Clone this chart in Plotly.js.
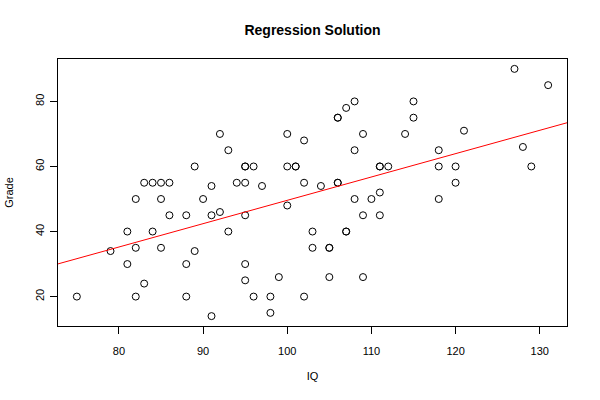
<!DOCTYPE html>
<html><head><meta charset="utf-8">
<script src="https://cdn.plot.ly/plotly-3.0.1.min.js"></script>
<style>html,body{margin:0;padding:0;background:#fff}#c{width:600px;height:400px}</style>
</head><body><div id="c"></div>
<script>
const iq = [75,79,81,81,82,82,82,83,83,84,84,85,85,85,86,86,88,88,88,89,89,90,91,91,91,92,92,93,93,94,
  95,95,95,95,95,95,96,96,97,98,98,99,100,100,100,101,101,102,102,102,103,103,104,105,105,105,
  106,106,106,106,107,107,107,108,108,108,109,109,109,110,111,111,111,111,112,114,115,115,
  118,118,118,120,120,121,127,128,129,131];
const grade = [20,34,40,30,50,35,20,55,24,55,40,55,50,35,55,45,45,30,20,60,34,50,54,45,14,70,46,65,40,55,
  60,60,55,45,30,25,60,20,54,20,15,26,70,60,48,60,60,68,55,20,40,35,54,35,35,26,
  75,75,55,55,78,40,40,80,65,50,70,45,26,50,60,60,52,45,60,70,80,75,
  65,60,50,60,55,71,90,66,60,85];
const xTicks = [80,90,100,110,120,130];
const yTicks = [20,40,60,80];

// least squares fit from the data
const n = iq.length;
const mx = iq.reduce((a,b)=>a+b,0)/n, my = grade.reduce((a,b)=>a+b,0)/n;
let sxy=0, sxx=0;
for (let i=0;i<n;i++){ sxy += (iq[i]-mx)*(grade[i]-my); sxx += (iq[i]-mx)**2; }
const slope = sxy/sxx, icpt = my - slope*mx;

const xmin = Math.min(...iq), xmax = Math.max(...iq);
const ymin = Math.min(...grade), ymax = Math.max(...grade);
const xr = [xmin-0.04*(xmax-xmin), xmax+0.04*(xmax-xmin)];
const yr = [ymin-0.04*(ymax-ymin), ymax+0.04*(ymax-ymin)];

const font = {family:'Liberation Sans, Arial, sans-serif', size:11, color:'#000'};
const traces = [
  {x: iq, y: grade, mode:'markers', type:'scatter',
   marker:{symbol:'circle-open', size:7, color:'#000', line:{width:1, color:'#000'}}, hoverinfo:'x+y'},
  {x: xr, y: xr.map(v=>icpt+slope*v), mode:'lines', type:'scatter',
   line:{color:'#ff0000', width:1}}
];
const layout = {
  width:600, height:400, showlegend:false,
  margin:{l:58, r:33, t:59, b:74},
  paper_bgcolor:'#fff', plot_bgcolor:'#fff', font: font,
  title:{text:'<b>Regression Solution</b>', xref:'paper', x:0.5, xanchor:'center', yref:'container', y:0.925, yanchor:'middle',
         font:{family:'Liberation Sans, Arial, sans-serif', size:14, color:'#000'}},
  xaxis:{range:xr, tickvals:xTicks, ticktext:xTicks.map(String), ticks:'outside', ticklen:7, tickcolor:'#000',
         ticklabelstandoff:8,
         showgrid:false, zeroline:false, showline:true, linecolor:'#000', linewidth:1, mirror:true,
         title:{text:'IQ', font:font, standoff:16}, tickfont:font},
  yaxis:{range:yr, tickvals:yTicks, ticktext:yTicks.map(String), ticks:'outside', ticklen:7, tickcolor:'#000',
         ticklabelstandoff:2,
         tickangle:-90, showgrid:false, zeroline:false, showline:true, linecolor:'#000', linewidth:1, mirror:true,
         title:{text:'Grade', font:font, standoff:17}, tickfont:font}
};
Plotly.newPlot('c', traces, layout, {displayModeBar:false, staticPlot:true});
</script></body></html>
